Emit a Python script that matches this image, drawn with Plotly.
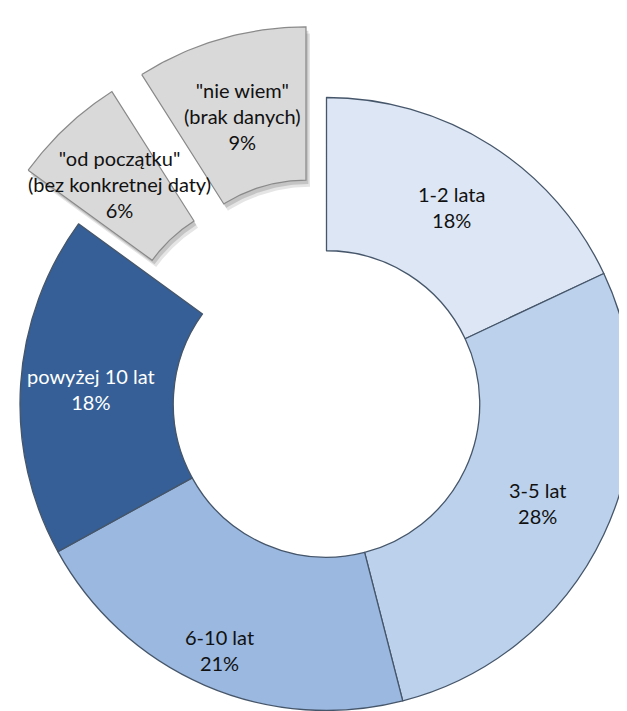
import math
import plotly.graph_objects as go

# ---- data ----
categories = ['1-2 lata', '3-5 lat', '6-10 lat', 'powyżej 10 lat',
              '"od początku"<br>(bez konkretnej daty)', '"nie wiem"<br>(brak danych)']
values = [18, 28, 21, 18, 6, 9]
pct_labels = ['18%', '28%', '21%', '18%', '6%', '9%']

# ---- styles ----
colors = ['#DCE6F4', '#BCD2EC', '#9AB8E0', '#355F96', '#D9D9D9', '#D9D9D9']
text_colors = ['#111111', '#111111', '#111111', '#FFFFFF', '#111111', '#111111']
pulled = [False, False, False, False, True, True]
PULL = 0.24          # pull distance in radius units
HOLE = 0.5
label_radius = [0.76, 0.76, 0.875, 0.77, 0.745, 0.74]

W, H = 627, 711
CX, CY, R = 318.5, 396.0, 306.5   # pie centre / radius in px

fig = go.Figure()

# main donut (pulled slices drawn separately, kept transparent here)
pie_colors = ['rgba(0,0,0,0)' if p else c for c, p in zip(colors, pulled)]
line_w = [0 if p else 1.3 for p in pulled]
fig.add_trace(go.Pie(
    labels=categories, values=values, sort=False, direction='clockwise', rotation=0,
    hole=HOLE, textinfo='none', hoverinfo='label+percent',
    marker=dict(colors=pie_colors, line=dict(color='#46566A', width=line_w)),
    domain=dict(x=[(CX - R) / W, (CX + R) / W],
                y=[(H - CY - R) / H, (H - CY + R) / H]),
    showlegend=False,
))

total = sum(values)
cum = 0
annotations = []
for cat, v, pct, col, tc, p, lr in zip(categories, values, pct_labels, colors,
                                       text_colors, pulled, label_radius):
    a0 = cum / total * 2 * math.pi
    a1 = (cum + v) / total * 2 * math.pi
    am = (a0 + a1) / 2
    cum += v
    ox = PULL * math.sin(am) if p else 0.0
    oy = PULL * math.cos(am) if p else 0.0
    if p:
        n = 40
        angs = [a0 + (a1 - a0) * k / n for k in range(n + 1)]
        xs = [ox + math.sin(a) for a in angs] + [ox + HOLE * math.sin(a) for a in reversed(angs)]
        ys = [oy + math.cos(a) for a in angs] + [oy + HOLE * math.cos(a) for a in reversed(angs)]
        xs.append(xs[0]); ys.append(ys[0])
        # soft shadow
        for s, alpha in ((0.022, 0.10), (0.013, 0.14)):
            fig.add_trace(go.Scatter(
                x=[x + s * 0.6 for x in xs], y=[y - s for y in ys], mode='lines',
                fill='toself', fillcolor=f'rgba(0,0,0,{alpha})', line=dict(width=0),
                hoverinfo='skip', showlegend=False))
        fig.add_trace(go.Scatter(
            x=xs, y=ys, mode='lines', fill='toself', fillcolor=col,
            line=dict(color='#8A8A8A', width=1.2), hoverinfo='skip', showlegend=False))
    annotations.append(dict(
        x=ox + lr * math.sin(am), y=oy + lr * math.cos(am), xref='x', yref='y',
        text=f'{cat}<br>{pct}', showarrow=False, align='center',
        font=dict(family='Lato, Carlito, Calibri, sans-serif', size=20, color=tc)))

fig.update_layout(
    width=W, height=H, margin=dict(l=0, r=0, t=0, b=0),
    paper_bgcolor='white', plot_bgcolor='rgba(0,0,0,0)',
    xaxis=dict(range=[-CX / R, (W - CX) / R], visible=False, fixedrange=True),
    yaxis=dict(range=[-(H - CY) / R, CY / R], visible=False, fixedrange=True),
    annotations=annotations,
)

fig.write_html('out.html')
